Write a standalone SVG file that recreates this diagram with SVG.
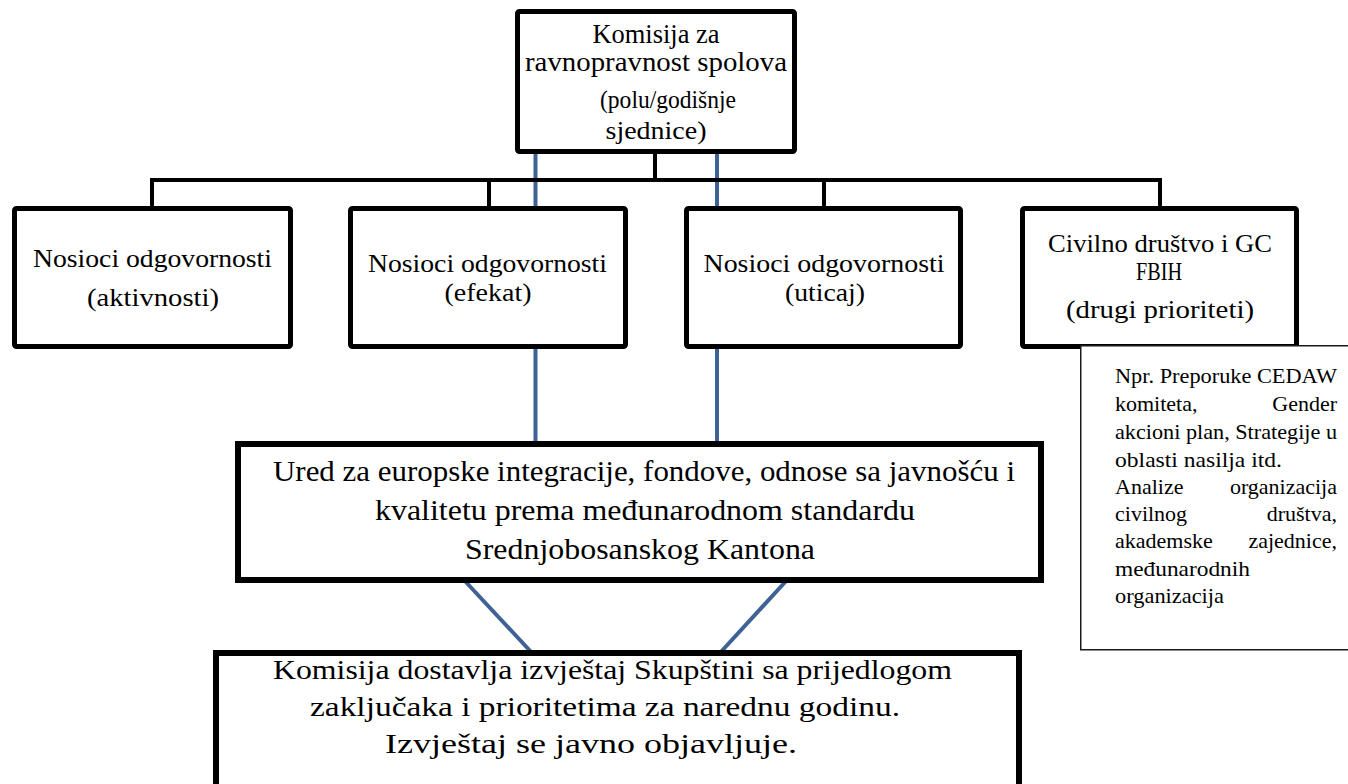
<svg xmlns="http://www.w3.org/2000/svg" width="1348" height="784" viewBox="0 0 1348 784">
<style>
  .box { fill: #ffffff; stroke: #000000; stroke-width: 5; }
  .thick { fill: #ffffff; stroke: #000000; stroke-width: 6; }
  .note { fill: #ffffff; stroke: #1a1a1a; stroke-width: 1.5; }
  .conn { stroke: #000000; stroke-width: 4; fill: none; }
  .blue { stroke: #3e6296; stroke-width: 4; fill: none; }
  text { font-family: "Liberation Serif", "DejaVu Serif", serif; fill: #000000; }
  .t26 { font-size: 26px; }
  .t27 { font-size: 27px; }
  .t28 { font-size: 28px; }
  .t29 { font-size: 29px; }
  .t22 { font-size: 22px; }
  .c { text-anchor: middle; }
  .e { text-anchor: end; }
</style>
<rect x="0" y="0" width="1348" height="784" fill="#ffffff"/>

<g id="connectors">
  <line class="blue" x1="535.5" y1="150" x2="535.5" y2="446"/>
  <line class="blue" x1="717" y1="150" x2="717" y2="446"/>
  <line class="blue" x1="464" y1="580" x2="533" y2="654"/>
  <line class="blue" x1="787" y1="580" x2="719" y2="654"/>
  <line class="conn" x1="655" y1="150" x2="655" y2="180"/>
  <line class="conn" x1="150" y1="180" x2="1162" y2="180"/>
  <line class="conn" x1="152" y1="180" x2="152" y2="210"/>
  <line class="conn" x1="489" y1="180" x2="489" y2="210"/>
  <line class="conn" x1="824" y1="180" x2="824" y2="210"/>
  <line class="conn" x1="1160" y1="180" x2="1160" y2="210"/>
</g>

<g id="komisija">
  <rect class="box" x="517.5" y="11.5" width="277" height="140" rx="2"/>
  <text class="t27 c" x="656" y="43" textLength="127" lengthAdjust="spacingAndGlyphs">Komisija za</text>
  <text class="t27 c" x="656" y="71" textLength="262" lengthAdjust="spacingAndGlyphs">ravnopravnost spolova</text>
  <text class="t26 c" x="668" y="108" textLength="136" lengthAdjust="spacingAndGlyphs">(polu/godišnje</text>
  <text class="t26 c" x="656" y="139" textLength="101" lengthAdjust="spacingAndGlyphs">sjednice)</text>
</g>

<g id="nosioci-aktivnosti">
  <rect class="box" x="14.5" y="208.5" width="276" height="138" rx="2"/>
  <text class="t26 c" x="152.5" y="267" textLength="239" lengthAdjust="spacingAndGlyphs">Nosioci odgovornosti</text>
  <text class="t26 c" x="153" y="306" textLength="132" lengthAdjust="spacingAndGlyphs">(aktivnosti)</text>
</g>

<g id="nosioci-efekat">
  <rect class="box" x="350.5" y="208.5" width="275" height="138" rx="2"/>
  <text class="t26 c" x="487.5" y="272" textLength="239" lengthAdjust="spacingAndGlyphs">Nosioci odgovornosti</text>
  <text class="t26 c" x="488" y="301" textLength="87" lengthAdjust="spacingAndGlyphs">(efekat)</text>
</g>

<g id="nosioci-uticaj">
  <rect class="box" x="686.5" y="208.5" width="274" height="138" rx="2"/>
  <text class="t26 c" x="824" y="272" textLength="241" lengthAdjust="spacingAndGlyphs">Nosioci odgovornosti</text>
  <text class="t26 c" x="825" y="301" textLength="80" lengthAdjust="spacingAndGlyphs">(uticaj)</text>
</g>

<g id="civilno-drustvo">
  <rect class="box" x="1022.5" y="208.5" width="274" height="138" rx="2"/>
  <text class="t26 c" x="1160" y="252" textLength="224" lengthAdjust="spacingAndGlyphs">Civilno društvo i GC</text>
  <text class="t26 c" x="1159" y="280" textLength="46" lengthAdjust="spacingAndGlyphs">FBIH</text>
  <text class="t26 c" x="1160" y="318" textLength="188" lengthAdjust="spacingAndGlyphs">(drugi prioriteti)</text>
</g>

<g id="napomena">
  <rect class="note" x="1080.75" y="345.75" width="300" height="304"/>
  <text class="t22" x="1115" y="383" textLength="222" lengthAdjust="spacingAndGlyphs">Npr. Preporuke CEDAW</text>
  <text class="t22" x="1115" y="411">komiteta,</text>
  <text class="t22 e" x="1337" y="411">Gender</text>
  <text class="t22" x="1115" y="439" textLength="222" lengthAdjust="spacingAndGlyphs">akcioni plan, Strategije u</text>
  <text class="t22" x="1115" y="467" textLength="167" lengthAdjust="spacingAndGlyphs">oblasti nasilja itd.</text>
  <text class="t22" x="1115" y="494">Analize</text>
  <text class="t22 e" x="1337" y="494">organizacija</text>
  <text class="t22" x="1115" y="521">civilnog</text>
  <text class="t22 e" x="1337" y="521">društva,</text>
  <text class="t22" x="1115" y="548">akademske</text>
  <text class="t22 e" x="1337" y="548">zajednice,</text>
  <text class="t22" x="1115" y="576" textLength="135" lengthAdjust="spacingAndGlyphs">međunarodnih</text>
  <text class="t22" x="1115" y="603" textLength="109" lengthAdjust="spacingAndGlyphs">organizacija</text>
</g>

<g id="ured">
  <rect class="thick" x="238" y="444" width="803" height="136"/>
  <text class="t29" x="273" y="481" textLength="742" lengthAdjust="spacingAndGlyphs">Ured za europske integracije, fondove, odnose sa javnošću i</text>
  <text class="t29" x="375" y="520" textLength="540" lengthAdjust="spacingAndGlyphs">kvalitetu prema međunarodnom standardu</text>
  <text class="t29" x="465" y="559" textLength="350" lengthAdjust="spacingAndGlyphs">Srednjobosanskog Kantona</text>
</g>

<g id="izvjestaj">
  <rect class="thick" x="216" y="653" width="803" height="145"/>
  <text class="t28" x="273" y="679" textLength="679" lengthAdjust="spacingAndGlyphs">Komisija dostavlja izvještaj Skupštini sa prijedlogom</text>
  <text class="t28" x="310" y="716" textLength="590" lengthAdjust="spacingAndGlyphs">zaključaka i prioritetima za narednu godinu.</text>
  <text class="t28" x="385" y="753" textLength="412" lengthAdjust="spacingAndGlyphs">Izvještaj se javno objavljuje.</text>
</g>
</svg>
